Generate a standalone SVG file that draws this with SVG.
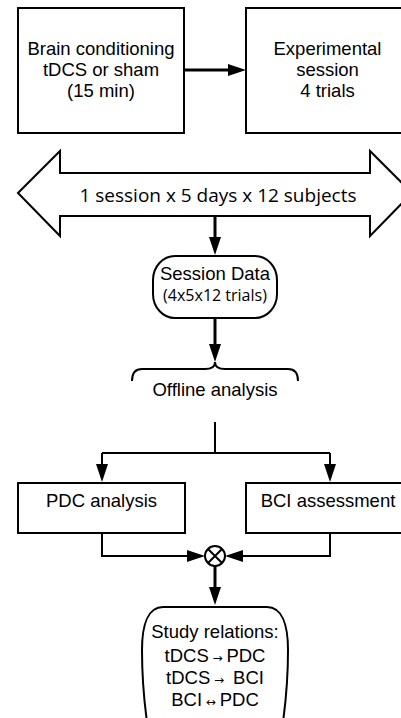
<svg xmlns="http://www.w3.org/2000/svg" width="401" height="718" viewBox="0 0 401 718">
<defs>
<style>
.box{fill:#fff;stroke:#000;stroke-width:2}
.t{font-family:"Liberation Sans",Arial,sans-serif;font-size:18.5px;fill:#000;text-anchor:middle}
.o{font-family:"Open Sans",sans-serif;font-size:16px;fill:#000;text-anchor:middle}
.big{font-size:19px}
.c{fill:none;stroke:#000;stroke-width:2}
.c3{fill:none;stroke:#000;stroke-width:3}
.sm{font-family:"DejaVu Sans",sans-serif;font-size:12px}
</style>
<marker id="ah" markerUnits="userSpaceOnUse" markerWidth="18" markerHeight="12" refX="8" refY="6" orient="auto">
<path d="M0,0 L18,6 L0,12 z" fill="#000"/>
</marker>
</defs>
<rect width="401" height="718" fill="#fff"/>
<g id="brain">
<rect class="box" x="18" y="8" width="166" height="125"/>
<text class="t" x="101" y="55">Brain conditioning</text>
<text class="t" x="101" y="76">tDCS or sham</text>
<text class="t" x="101" y="97">(15 min)</text>
</g>
<g id="experimental">
<rect class="box" x="246" y="8" width="164" height="125"/>
<text class="t" x="327.5" y="55">Experimental</text>
<text class="t" x="327.5" y="76">session</text>
<text class="t" x="327.5" y="97">4 trials</text>
</g>
<g id="sessions">
<polygon class="box" points="18,193 60,151 60,173 370,173 370,151 412,193 370,236 370,216 60,216 60,236"/>
<text class="o big" x="218" y="202">1 session x 5 days x 12 subjects</text>
</g>
<g id="sessiondata">
<rect class="box" x="153" y="256" width="124" height="62" rx="22" ry="24"/>
<text class="t" x="215" y="280">Session Data</text>
<text class="o" x="215" y="301">(4x5x12 trials)</text>
</g>
<g id="offline">
<path class="c" d="M132,381 Q132,369 142,369 L205,369 Q215,369 215,362 Q215,369 225,369 L288,369 Q298,369 298,381"/>
<text class="t" x="215" y="396">Offline analysis</text>
</g>
<g id="pdc">
<rect class="box" x="18" y="483" width="167" height="50"/>
<text class="t" x="101.5" y="507">PDC analysis</text>
</g>
<g id="bci">
<rect class="box" x="246" y="483" width="164" height="50"/>
<text class="t" x="328" y="507">BCI assessment</text>
</g>
<g id="combine">
<circle class="box" cx="215" cy="556" r="10"/>
<path class="c" d="M208,549 L222,563 M222,549 L208,563"/>
</g>
<g id="study">
<path class="box" d="M163,607 L267,607 C282,607 288,625 288,650 C288,680 286,700 283,722 L147,722 C144,700 142,680 142,650 C142,625 148,607 163,607 Z"/>
<text class="t" x="215" y="638">Study relations:</text>
<text class="t" x="215" y="662">tDCS<tspan class="sm"> → </tspan>PDC</text>
<text class="t" x="215" y="684">tDCS<tspan class="sm"> → </tspan>&#160;BCI</text>
<text class="t" x="215" y="706">BCI<tspan class="sm"> ↔ </tspan>PDC</text>
</g>
<g id="connectors">
<line class="c3" x1="184" y1="70" x2="236" y2="70" marker-end="url(#ah)"/>
<line class="c3" x1="215" y1="216" x2="215" y2="245" marker-end="url(#ah)"/>
<line class="c3" x1="215" y1="318" x2="215" y2="352" marker-end="url(#ah)"/>
<path class="c" d="M215,422 L215,453 M102,453 L330,453"/>
<line class="c" x1="102" y1="453" x2="102" y2="472" marker-end="url(#ah)"/>
<line class="c" x1="330" y1="453" x2="330" y2="472" marker-end="url(#ah)"/>
<polyline class="c" points="102,533 102,556 195,556" marker-end="url(#ah)"/>
<polyline class="c" points="330,533 330,556 235,556" marker-end="url(#ah)"/>
<line class="c3" x1="215" y1="566" x2="215" y2="595" marker-end="url(#ah)"/>
</g>
</svg>
